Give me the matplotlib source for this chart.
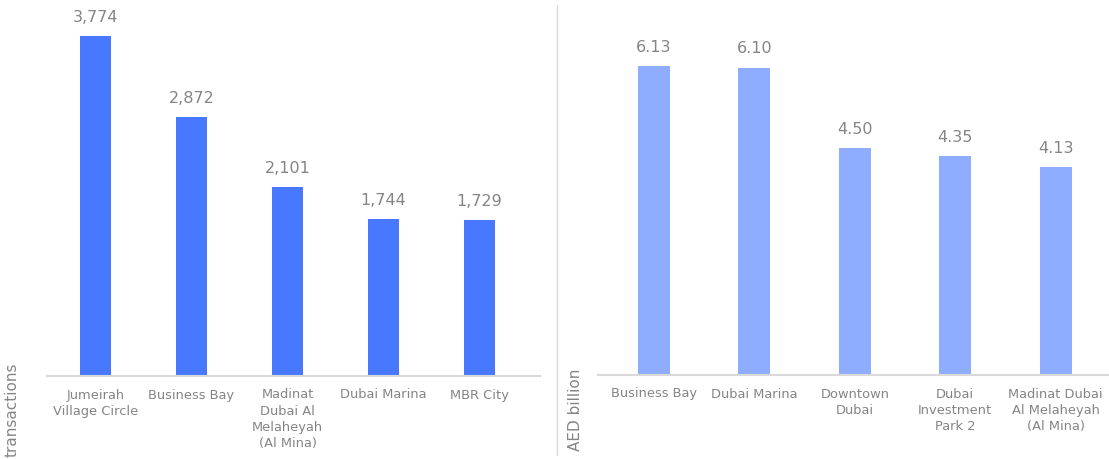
import matplotlib.pyplot as plt

plt.rcParams['font.family'] = ['DejaVu Sans']

# data
left_cats = ['Jumeirah\nVillage Circle', 'Business Bay', 'Madinat\nDubai Al\nMelaheyah\n(Al Mina)',
             'Dubai Marina', 'MBR City']
left_vals = [3774, 2872, 2101, 1744, 1729]

right_cats = ['Business Bay', 'Dubai Marina', 'Downtown\nDubai', 'Dubai\nInvestment\nPark 2',
              'Madinat Dubai\nAl Melaheyah\n(Al Mina)']
right_vals = [6.13, 6.10, 4.50, 4.35, 4.13]

grey = '#858585'
W, H = 1109, 459
fig = plt.figure(figsize=(W / 100, H / 100), dpi=100)

# -- left panel
ax1 = fig.add_axes([47.5 / W, 1 - 376 / H, 492.5 / W, 376 / H])
x = range(len(left_vals))
ax1.bar(x, left_vals, width=0.32, color='#4878FF')
ax1.set_xlim(-0.5, 4.63)
ax1.set_ylim(0, 3774 * 376 / 340)
for i, v in enumerate(left_vals):
    ax1.annotate(f'{v:,}', (i, v), xytext=(0, 8), textcoords='offset points',
                 ha='center', va='bottom', fontsize=11.5, color=grey)
ax1.set_xticks(list(x))
ax1.set_xticklabels(left_cats, fontsize=9.4, color=grey, linespacing=1.32)

# -- right panel
ax2 = fig.add_axes([598 / W, 1 - 375 / H, 511 / W, 375 / H])
x = range(len(right_vals))
ax2.bar(x, right_vals, width=0.32, color='#8FADFF')
ax2.set_xlim(-0.557, 4.53)
ax2.set_ylim(0, 6.13 * 375 / 309)
for i, v in enumerate(right_vals):
    ax2.annotate(f'{v:.2f}', (i, v), xytext=(0, 8), textcoords='offset points',
                 ha='center', va='bottom', fontsize=11.5, color=grey)
ax2.set_xticks(list(x))
ax2.set_xticklabels(right_cats, fontsize=9.4, color=grey, linespacing=1.32)

for ax in (ax1, ax2):
    for s in ['top', 'right', 'left']:
        ax.spines[s].set_visible(False)
    ax.spines['bottom'].set_color('#D9D9D9')
    ax.spines['bottom'].set_linewidth(1.5)
    ax.set_yticks([])
    ax.tick_params(axis='x', length=0, pad=9)

# axis titles
fig.text(12 / W, 1 - 410 / H, 'transactions', rotation=90, ha='center', va='center',
         fontsize=11, color=grey)
fig.text(575 / W, 1 - 410 / H, 'AED billion', rotation=90, ha='center', va='center',
         fontsize=11, color=grey)

# divider
fig.add_artist(plt.Line2D([557 / W, 557 / W], [1 - 455 / H, 1 - 5 / H], color='#D9D9D9', lw=1))

fig.savefig('out.png', dpi=100)
